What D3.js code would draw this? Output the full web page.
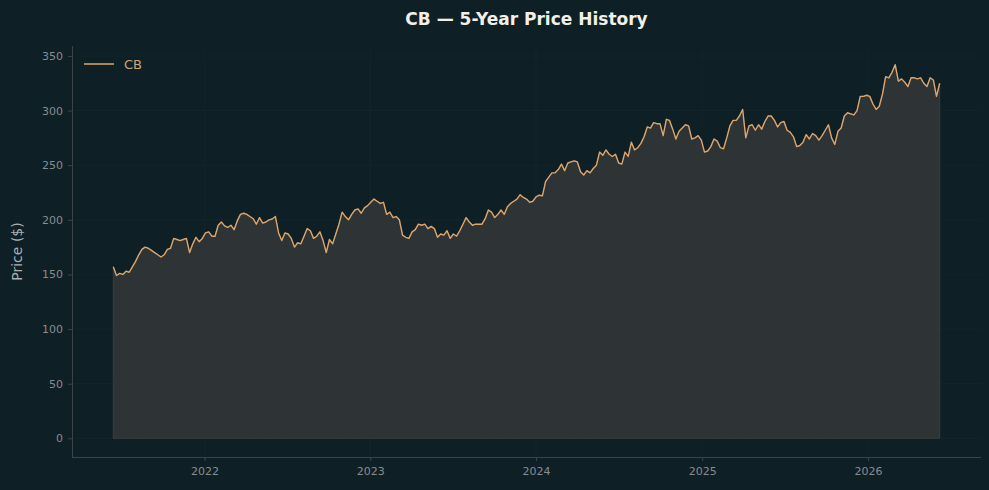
<!DOCTYPE html>
<html>
<head>
<meta charset="utf-8">
<script src="https://cdn.jsdelivr.net/npm/d3@7"></script>
<style>
  html, body { margin: 0; padding: 0; background: #0f1f26; }
  svg { display: block; font-family: "DejaVu Sans", sans-serif; }
</style>
</head>
<body>
<svg id="chart" width="989" height="490"></svg>
<script>
// weekly closes, first week of mid-June 2021
const startDate = new Date(2021, 5, 14);
const prices = [
  157, 149, 151, 150, 153, 152, 157, 162, 168, 173,
  175, 174, 172, 170, 168, 166, 168, 173, 174, 183,
  182, 181, 182, 183, 170, 178, 184, 180, 183, 188,
  189, 185, 185, 195, 198, 194.5, 193, 195, 191, 199,
  205, 206, 205, 203, 201, 196, 202, 197, 198, 200,
  200.7, 203, 188, 181, 188, 187, 183, 175, 179, 178,
  185, 192, 190, 183, 185, 189, 181, 170, 182, 178,
  187, 196, 207, 203, 200, 205, 209, 210, 206, 211,
  213, 216, 219, 217, 215, 216, 205, 207, 202, 203,
  200, 186, 184, 183, 189, 191, 196, 195, 196, 192,
  194, 192, 184, 187, 186, 190, 183, 187, 185, 190,
  196, 202, 198, 195, 196, 196, 196, 201, 209, 207,
  202, 205, 209, 205, 212, 215, 217, 219, 223, 220.5,
  219, 216, 217, 221, 222.5, 222, 235, 239, 243, 243,
  246, 251, 245, 252, 253, 254, 253, 244, 241, 245,
  243, 247, 250, 262, 259, 264, 260, 258, 260, 252,
  251, 262, 258, 271, 264, 266, 270, 276, 285, 284,
  289, 288, 288, 277, 292, 291, 283, 274, 281, 284,
  287, 286, 274, 275, 277, 273, 262, 263, 267, 274,
  272, 266, 265, 275, 286, 291, 291, 295, 301, 275,
  286, 287, 282, 287, 283, 290, 295, 295, 291, 285,
  289, 290, 282, 280, 276, 267, 268, 271, 278, 274,
  279, 277, 273, 277, 282, 287, 275, 269, 281, 284,
  295, 298, 297, 296, 300, 313, 313, 314, 313, 306,
  301, 304, 315, 331, 330, 335, 342, 327, 329, 326,
  322, 330, 330, 329, 330, 325, 322, 330, 328, 313,
  325
];
const dates = prices.map((_, i) => d3.timeWeek.offset(startDate, i));
const yTicks = [0, 50, 100, 150, 200, 250, 300, 350];
const xTickYears = [2022, 2023, 2024, 2025, 2026];

const svg = d3.select("#chart");
const width = +svg.attr("width");
const height = +svg.attr("height");
const margin = { top: 46, right: 8, bottom: 33, left: 72 };

const lineColor = "#dea66c";
const gridColor = "#16262c";
const spineColor = "#3b4548";
const tickText = "#858d90";

// matplotlib-like 5% padding around data
const xExt = d3.extent(dates);
const xPad = (xExt[1] - xExt[0]) * 0.05;
const x = d3.scaleTime()
  .domain([new Date(+xExt[0] - xPad), new Date(+xExt[1] + xPad)])
  .range([margin.left, width - margin.right]);

const yMax = d3.max(prices);
const y = d3.scaleLinear()
  .domain([-yMax * 0.05, yMax * 1.05])
  .range([height - margin.bottom, margin.top]);

const data = dates.map((d, i) => ({ date: d, v: prices[i] }));
const xTicks = xTickYears.map(yr => new Date(yr, 0, 1));

// grid
svg.append("g")
  .selectAll("line")
  .data(yTicks)
  .join("line")
  .attr("x1", margin.left).attr("x2", width - margin.right)
  .attr("y1", d => y(d)).attr("y2", d => y(d))
  .attr("stroke", gridColor).attr("stroke-width", 0.8);

svg.append("g")
  .selectAll("line")
  .data(xTicks)
  .join("line")
  .attr("x1", d => x(d)).attr("x2", d => x(d))
  .attr("y1", margin.top).attr("y2", height - margin.bottom)
  .attr("stroke", gridColor).attr("stroke-width", 0.8);

// area + line
const area = d3.area()
  .x(d => x(d.date))
  .y0(y(0))
  .y1(d => y(d.v));

svg.append("path")
  .datum(data)
  .attr("d", area)
  .attr("fill", "#2e3435")
  .attr("stroke", "#3a3f3d")
  .attr("stroke-width", 1);

const line = d3.line()
  .x(d => x(d.date))
  .y(d => y(d.v));

svg.append("path")
  .datum(data)
  .attr("d", line)
  .attr("fill", "none")
  .attr("stroke", lineColor)
  .attr("stroke-width", 1.4)
  .attr("stroke-linejoin", "round");

// axes
const xAxis = d3.axisBottom(x)
  .tickValues(xTicks)
  .tickFormat(d3.timeFormat("%Y"))
  .tickSize(4)
  .tickPadding(6);

const gx = svg.append("g")
  .attr("transform", `translate(0,${height - margin.bottom})`)
  .call(xAxis);

const yAxis = d3.axisLeft(y)
  .tickValues(yTicks)
  .tickSize(4)
  .tickPadding(5);

const gy = svg.append("g")
  .attr("transform", `translate(${margin.left},0)`)
  .call(yAxis);

[gx, gy].forEach(g => {
  g.select(".domain").attr("stroke", spineColor).attr("stroke-width", 1);
  g.selectAll(".tick line").attr("stroke", spineColor);
  g.selectAll(".tick text")
    .attr("fill", tickText)
    .style("font-size", "11px")
    .style("font-family", "DejaVu Sans, sans-serif");
});
gx.select(".domain").attr("d", `M${margin.left},0.5H${width - margin.right}`);
gy.select(".domain").attr("d", `M0.5,${margin.top}V${height - margin.bottom}`);

// title and labels
svg.append("text")
  .attr("x", (margin.left + width - margin.right) / 2)
  .attr("y", 25)
  .attr("text-anchor", "middle")
  .attr("fill", "#f2efe9")
  .style("font-size", "17px")
  .style("font-weight", "bold")
  .text("CB — 5-Year Price History");

svg.append("text")
  .attr("transform", `translate(22,${(margin.top + height - margin.bottom) / 2}) rotate(-90)`)
  .attr("text-anchor", "middle")
  .attr("fill", "#a7afb2")
  .style("font-size", "14px")
  .text("Price ($)");

// legend
const legend = svg.append("g").attr("transform", "translate(84,64)");
legend.append("line")
  .attr("x1", 0).attr("x2", 30)
  .attr("stroke", lineColor).attr("stroke-width", 1.5);
legend.append("text")
  .attr("x", 40).attr("y", 4.5)
  .attr("fill", "#cfa57a")
  .style("font-size", "13px")
  .text("CB");
</script>
</body>
</html>
